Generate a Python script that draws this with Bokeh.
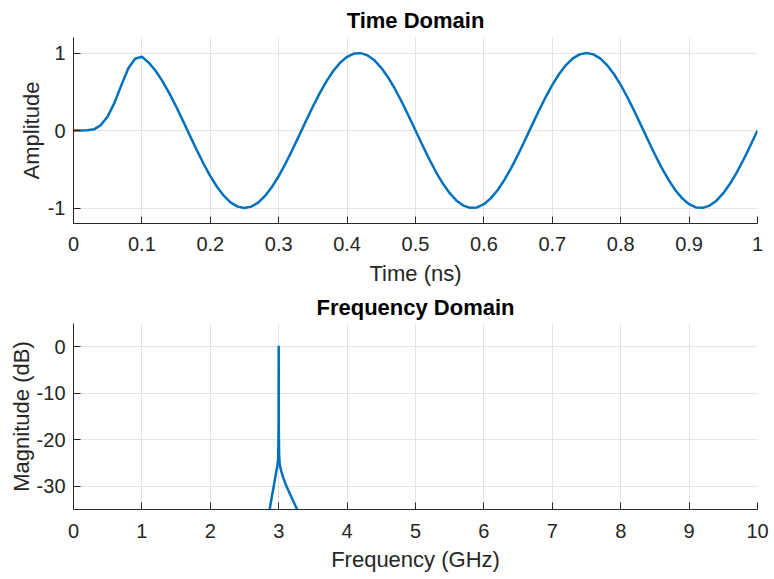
from bokeh.plotting import figure
from bokeh.layouts import column
from bokeh.models import Range1d, FixedTicker
from bokeh.embed import file_html
from bokeh.resources import INLINE

# ---- time-domain samples (0.01 ns spacing) ----
time_ns = [i / 100 for i in range(101)]
amplitude = [
    0.000, 0.000, 0.003, 0.015, 0.070, 0.180, 0.360, 0.585, 0.800, 0.925,
    0.951, 0.876, 0.771, 0.637, 0.482, 0.309, 0.125, -0.063, -0.249, -0.426,
    -0.588, -0.729, -0.844, -0.930, -0.982, -1.000, -0.982, -0.930, -0.844, -0.729,
    -0.588, -0.426, -0.249, -0.063, 0.125, 0.309, 0.482, 0.637, 0.771, 0.876,
    0.951, 0.992, 0.998, 0.969, 0.905, 0.809, 0.685, 0.536, 0.368, 0.187,
    0.000, -0.187, -0.368, -0.536, -0.685, -0.809, -0.905, -0.969, -0.998, -0.992,
    -0.951, -0.876, -0.771, -0.637, -0.482, -0.309, -0.125, 0.063, 0.249, 0.426,
    0.588, 0.729, 0.844, 0.930, 0.982, 1.000, 0.982, 0.930, 0.844, 0.729,
    0.588, 0.426, 0.249, 0.063, -0.125, -0.309, -0.482, -0.637, -0.771, -0.876,
    -0.951, -0.992, -0.998, -0.969, -0.905, -0.809, -0.685, -0.536, -0.368, -0.187,
    0.000,
]

# ---- spectrum around the 3 GHz tone ----
freq_ghz = [2.84, 2.868, 2.90, 2.93, 2.96, 2.98, 2.992, 2.998, 3.0,
            3.002, 3.006, 3.012, 3.022, 3.04, 3.07, 3.10, 3.145, 3.21, 3.27, 3.31]
magnitude_db = [-37.5, -35.0, -32.2, -29.8, -27.2, -25.6, -24.3, -18.0, 0.0,
                -18.0, -23.0, -24.8, -25.8, -26.9, -28.3, -29.5, -31.0, -33.1, -35.0, -36.3]

# ---- tick positions and labels ----
time_ticks = [0, 0.1, 0.2, 0.3, 0.4, 0.5, 0.6, 0.7, 0.8, 0.9, 1]
time_tick_labels = ["0", "0.1", "0.2", "0.3", "0.4", "0.5", "0.6", "0.7", "0.8", "0.9", "1"]
amp_ticks = [-1, 0, 1]
amp_tick_labels = ["-1", "0", "1"]
freq_ticks = [0, 1, 2, 3, 4, 5, 6, 7, 8, 9, 10]
freq_tick_labels = ["0", "1", "2", "3", "4", "5", "6", "7", "8", "9", "10"]
db_ticks = [-30, -20, -10, 0]
db_tick_labels = ["-30", "-20", "-10", "0"]

FONT = "Liberation Sans"
AXIS_COLOR = "#262626"
GRID_COLOR = "#e4e4e4"
LINE_COLOR = "#0072BD"


def style(p, title, xlabel, ylabel, xt, xtl, yt, ytl, label_standoff,
          x_tick_standoff, x_label_standoff, title_standoff, title_valign):
    p.title.text = title
    p.title.align = "center"
    p.title.vertical_align = title_valign
    p.title.text_font = FONT
    p.title.text_font_size = "22px"
    p.title.text_font_style = "bold"
    p.title.text_color = "#000000"
    p.title.standoff = title_standoff

    p.outline_line_color = None
    p.background_fill_color = "white"
    p.border_fill_color = "white"

    p.xaxis.ticker = FixedTicker(ticks=xt)
    p.xaxis.major_label_overrides = dict(zip(xt, xtl))
    p.yaxis.ticker = FixedTicker(ticks=yt)
    p.yaxis.major_label_overrides = dict(zip(yt, ytl))

    for ax in (p.xaxis[0], p.yaxis[0]):
        ax.axis_line_color = AXIS_COLOR
        ax.axis_line_width = 1
        ax.major_tick_line_color = AXIS_COLOR
        ax.major_tick_in = 7
        ax.major_tick_out = 0
        ax.minor_tick_line_color = None
        ax.major_label_text_font = FONT
        ax.major_label_text_font_size = "20px"
        ax.major_label_text_color = AXIS_COLOR
        ax.axis_label_text_font = FONT
        ax.axis_label_text_font_size = "22px"
        ax.axis_label_text_font_style = "normal"
        ax.axis_label_text_color = AXIS_COLOR

    p.xaxis.axis_label = xlabel
    p.yaxis.axis_label = ylabel
    p.xaxis.major_label_standoff = x_tick_standoff
    p.yaxis.major_label_standoff = 8
    p.xaxis.axis_label_standoff = x_label_standoff
    p.yaxis.axis_label_standoff = label_standoff

    p.xgrid.grid_line_color = GRID_COLOR
    p.ygrid.grid_line_color = GRID_COLOR
    p.xgrid.grid_line_width = 1
    p.ygrid.grid_line_width = 1


# Time-domain subplot
p1 = figure(width=774, height=290, output_backend="svg", toolbar_location=None,
            x_range=Range1d(0, 1), y_range=Range1d(-1.2, 1.2),
            min_border_left=73, min_border_right=17,
            min_border_top=37, min_border_bottom=67)
style(p1, "Time Domain", "Time (ns)", "Amplitude",
      time_ticks, time_tick_labels, amp_ticks, amp_tick_labels, 1, 13, 7, 10, "bottom")
p1.line(time_ns, amplitude, line_color=LINE_COLOR, line_width=2.5, line_join="round")

# Frequency-domain subplot
p2 = figure(width=774, height=289, output_backend="svg", toolbar_location=None,
            x_range=Range1d(0, 10), y_range=Range1d(-35, 5),
            min_border_left=73, min_border_right=17,
            min_border_top=33, min_border_bottom=70)
style(p2, "Frequency Domain", "Frequency (GHz)", "Magnitude (dB)",
      freq_ticks, freq_tick_labels, db_ticks, db_tick_labels, 0, 14, 6, 4, "top")
p2.line(freq_ghz, magnitude_db, line_color=LINE_COLOR, line_width=2.5, line_join="round")

layout = column(p1, p2, spacing=0)
open("out.html", "w").write(file_html(layout, INLINE))
